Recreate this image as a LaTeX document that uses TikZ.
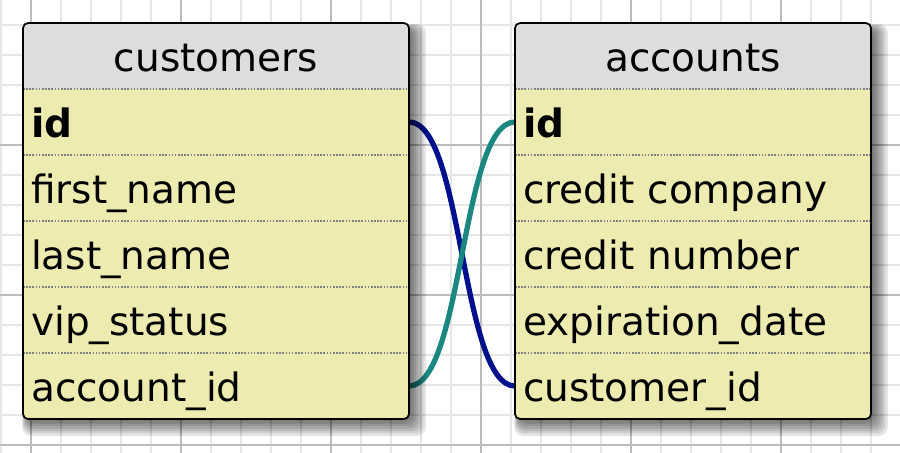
\documentclass[tikz,border=0pt]{standalone}
\usepackage{fontspec}
\setmainfont{DejaVu Sans}
\usetikzlibrary{positioning}

\pgfdeclarelayer{grid}
\pgfdeclarelayer{links}
\pgfdeclarelayer{frame}
\pgfsetlayers{grid,links,frame,main}

\definecolor{headgray}{RGB}{221,221,221}
\definecolor{rowkhaki}{RGB}{238,235,176}
\definecolor{linknavy}{RGB}{0,16,140}
\definecolor{linkteal}{RGB}{26,135,128}
\definecolor{gridminor}{RGB}{230,230,230}
\definecolor{gridmajor}{RGB}{188,188,188}

\begin{document}
\begin{tikzpicture}[font=\fontsize{37}{44}\selectfont]
    % Styles
    \tikzstyle{cell} = [rectangle, inner xsep=0.27cm, inner ysep=0pt, outer sep=0pt, minimum height=2.2cm, text height=1cm, text depth=0pt, align=left]
    \tikzstyle{custcell} = [cell, text width=12.327cm]
    \tikzstyle{acctcell} = [cell, text width=11.327cm]
    \tikzstyle{tablehead} = [align=center]
    \tikzstyle{rowsep} = [draw=gray, line width=1.2pt, dash pattern=on 1.5pt off 1.5pt]
    \tikzstyle{tableframe} = [draw=black, line width=1.6pt, rounded corners=0.17cm]
    \tikzstyle{shadowlayer} = [black, opacity=0.1, rounded corners=0.3cm]
    \tikzstyle{fklink} = [line width=5pt]

    \useasboundingbox (0,0) rectangle (30,15.067);

    % Grid paper
    \begin{pgfonlayer}{grid}
        \begin{scope}
            \clip (0,0) rectangle (30,15.067);
            \draw[gridminor, line width=1.2pt, step=1, shift={(0.033,0.233)}] (-1,-1) grid (31,16);
            \draw[gridmajor, line width=2.2pt, step=5, shift={(1.033,0.233)}] (-5,-5) grid (31,16);
        \end{scope}
    \end{pgfonlayer}

    % customers table
    \node[custcell, tablehead] (cust-title) at (7.2,13.2) {customers};
    \node[custcell, below=0pt of cust-title] (cust-id) {\bfseries id};
    \node[custcell, below=0pt of cust-id] (cust-first) {first\_name};
    \node[custcell, below=0pt of cust-first] (cust-last) {last\_name};
    \node[custcell, below=0pt of cust-last] (cust-vip) {vip\_status};
    \node[custcell, below=0pt of cust-vip] (cust-acct) {account\_id};

    % accounts table
    \node[acctcell, tablehead] (acct-title) at (23.1,13.2) {accounts};
    \node[acctcell, below=0pt of acct-title] (acct-id) {\bfseries id};
    \node[acctcell, below=0pt of acct-id] (acct-company) {credit company};
    \node[acctcell, below=0pt of acct-company] (acct-number) {credit number};
    \node[acctcell, below=0pt of acct-number] (acct-expiry) {expiration\_date};
    \node[acctcell, below=0pt of acct-expiry] (acct-custid) {customer\_id};

    % Soft shadows, fills
    \begin{pgfonlayer}{frame}
        \foreach \k in {0,...,7} {
            \fill[shadowlayer] ([shift={(0.15-0.025*\k,-0.2+0.025*\k)}]cust-title.north west) rectangle ([shift={(0.08*\k,-0.08*\k)}]cust-acct.south east);
            \fill[shadowlayer] ([shift={(0.15-0.025*\k,-0.2+0.025*\k)}]acct-title.north west) rectangle ([shift={(0.08*\k,-0.08*\k)}]acct-custid.south east);
        }
        \fill[rowkhaki, rounded corners=0.17cm] (cust-title.north west) rectangle (cust-acct.south east);
        \fill[headgray, rounded corners=0.17cm] (cust-title.north west) rectangle (cust-title.south east);
        \fill[headgray] (cust-title.west) rectangle (cust-title.south east);
        \fill[rowkhaki, rounded corners=0.17cm] (acct-title.north west) rectangle (acct-custid.south east);
        \fill[headgray, rounded corners=0.17cm] (acct-title.north west) rectangle (acct-title.south east);
        \fill[headgray] (acct-title.west) rectangle (acct-title.south east);
    \end{pgfonlayer}

    % Row separators and outlines
    \foreach \r in {cust-id, cust-first, cust-last, cust-vip, cust-acct, acct-id, acct-company, acct-number, acct-expiry, acct-custid}
        \draw[rowsep] (\r.north west) -- (\r.north east);
    \draw[tableframe] (cust-title.north west) rectangle (cust-acct.south east);
    \draw[tableframe] (acct-title.north west) rectangle (acct-custid.south east);

    % Foreign keys
    \begin{pgfonlayer}{links}
        \draw[fklink, linknavy] (cust-id.east) .. controls +(1.8,0) and +(-1.8,0) .. (acct-custid.west);
        \draw[fklink, linkteal] (cust-acct.east) .. controls +(1.8,0) and +(-1.8,0) .. (acct-id.west);
    \end{pgfonlayer}
\end{tikzpicture}
\end{document}
